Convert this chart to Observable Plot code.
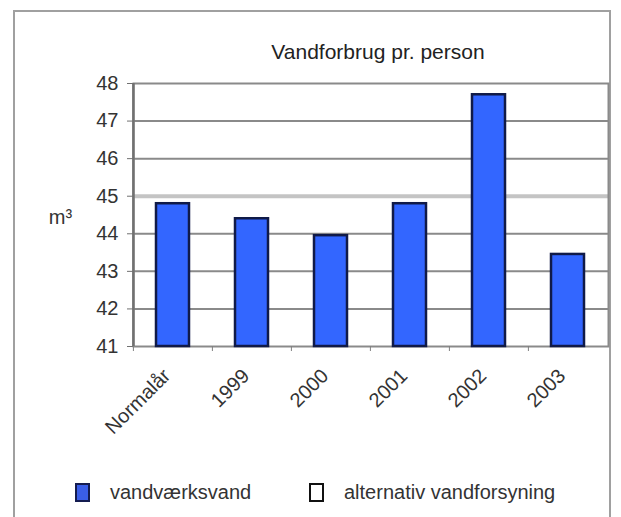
<!DOCTYPE html>
<html>
<head>
<meta charset="utf-8">
<script src="https://cdn.jsdelivr.net/npm/d3@7"></script>
<script src="https://cdn.jsdelivr.net/npm/@observablehq/plot@0.6"></script>
<style>
  html, body { margin: 0; padding: 0; background: #fff; }
  body { width: 621px; height: 517px; position: relative; overflow: hidden; font-family: "Liberation Sans", Arial, sans-serif; }
  #frame { position: absolute; left: 13px; top: 10px; width: 598px; height: 520px; border: 2px solid #a0a0a0; box-sizing: border-box; }
  #title { position: absolute; left: 0; top: 40px; width: 756px; text-align: center; font-size: 21px; color: #222; }
  #chart { position: absolute; left: 0; top: 0; }
  #legend { position: absolute; top: 480px; left: 0; width: 621px; height: 24px; font-size: 20px; color: #333; }
  .item { position: absolute; top: 0; display: flex; align-items: center; height: 24px; }
  .sw { width: 11px; height: 15px; box-sizing: content-box; margin-right: 20px; }
</style>
</head>
<body>
<div id="frame"></div>
<div id="title"></div>
<div id="chart"></div>
<div id="legend"></div>
<script>
// ---- data ----
const title = "Vandforbrug pr. person";
const yLabel = "m³";
const categories = ["Normalår", "1999", "2000", "2001", "2002", "2003"];
const values = [44.8, 44.4, 43.95, 44.8, 47.7, 43.45];
const yTicks = [41, 42, 43, 44, 45, 46, 47, 48];
const gridTicks = [42, 43, 44, 46, 47];
const highlightTick = [45];
const legendLabels = ["vandværksvand", "alternativ vandforsyning"];
const legendFills = ["#3a5ee8", "#ffffff"];
const legendStrokes = ["#141c50", "#111111"];
const legendLeft = [75, 309];

const data = categories.map((c, i) => ({cat: c, value: values[i]}));

document.getElementById("title").textContent = title;

const chart = Plot.plot({
  width: 621,
  height: 470,
  marginTop: 83,
  marginLeft: 133,
  marginRight: 13,
  marginBottom: 124,
  style: {fontFamily: "Liberation Sans, Arial, sans-serif", fontSize: "20px", color: "#333", background: "transparent"},
  x: {domain: categories, paddingInner: 0.58, paddingOuter: 0.29, label: null},
  y: {domain: [41, 48], label: null},
  marks: [
    Plot.ruleY(gridTicks, {stroke: "#8a8a8a", strokeWidth: 2}),
    Plot.ruleY(highlightTick, {stroke: "#c4c4c4", strokeWidth: 4}),
    Plot.frame({stroke: "#8a8a8a", strokeWidth: 2}),
    Plot.ruleX([categories[0]], {stroke: "#707070", strokeWidth: 2.5, dx: -39.6}),
    Plot.barY(data, {x: "cat", y1: 41, y2: "value", fill: "#3366ff", stroke: "#101a48", strokeWidth: 2.5}),
    Plot.axisY({ticks: yTicks, tickFormat: d => String(d), tickSize: 6, tickPadding: 9, stroke: "#707070", fill: "#333", fontSize: 20}),
    Plot.axisX({tickSize: 5, tickFormat: () => "", dx: -39.6, stroke: "#808080"}),
    Plot.axisX({tickSize: 0, tickRotate: -45, tickPadding: 26, dx: -6, fill: "#333", fontSize: 20}),
    Plot.text([yLabel], {frameAnchor: "left", dx: -73, dy: 3, text: d => d, fontSize: 20, fill: "#333", textAnchor: "middle"})
  ]
});
document.getElementById("chart").appendChild(chart);

const legend = document.getElementById("legend");
legendLabels.forEach((lab, i) => {
  const item = document.createElement("div");
  item.className = "item";
  item.style.left = legendLeft[i] + "px";
  const sw = document.createElement("div");
  sw.className = "sw";
  sw.style.background = legendFills[i];
  sw.style.border = "2px solid " + legendStrokes[i];
  const t = document.createElement("span");
  t.textContent = lab;
  item.appendChild(sw);
  item.appendChild(t);
  legend.appendChild(item);
});
</script>
</body>
</html>
